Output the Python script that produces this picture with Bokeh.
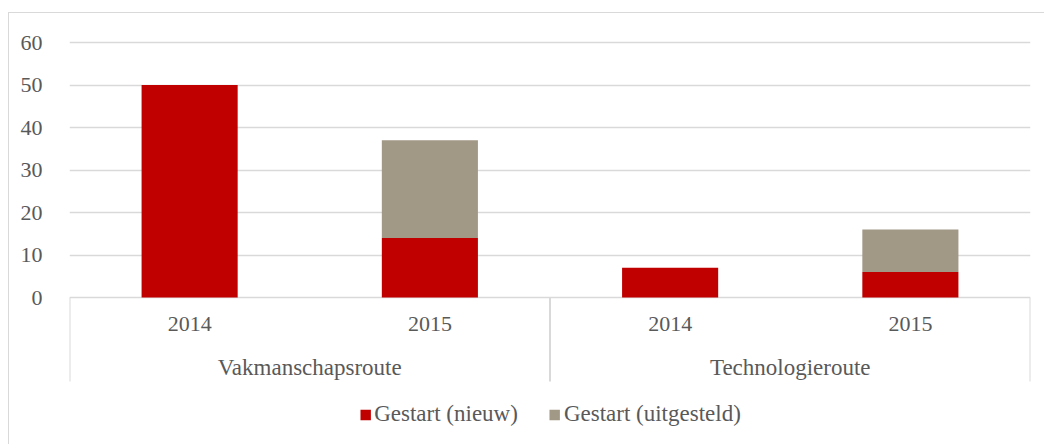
from bokeh.plotting import figure
from bokeh.models import FactorRange, FixedTicker, Range1d, Legend, LegendItem, ColumnDataSource
from bokeh.core.properties import value
from bokeh.embed import file_html
from bokeh.resources import INLINE

# ---- data ----
routes = ["Vakmanschapsroute", "Technologieroute"]
years = ["2014", "2015"]
nieuw = [50, 14, 7, 6]
uitgesteld = [0, 23, 0, 10]
series = ["Gestart (nieuw)", "Gestart (uitgesteld)"]
colors = ["#c00000", "#a29886"]
y_ticks = [0, 10, 20, 30, 40, 50, 60]

FONT = value("Liberation Serif")
TXT = "#595959"
GRID = "#d9d9d9"

factors = [(r, y) for r in routes for y in years]
src = ColumnDataSource(dict(x=factors, nieuw=nieuw, uitgesteld=uitgesteld))

FIG_LEFT, FIG_TOP = 8, 12
FIG_W, FIG_H = 1036, 432
FRAME_TOP = 29
FRAME_BOTTOM = 445
px_per_unit = (297 - 42) / 60.0
y_start = -(FRAME_BOTTOM - 297) / px_per_unit
y_end = 60 + (42 - FRAME_TOP) / px_per_unit
y_sep_end = -(381 - 297) / px_per_unit

p = figure(
    width=FIG_W, height=FIG_H,
    x_range=FactorRange(*factors, factor_padding=0, group_padding=0, range_padding=0),
    y_range=Range1d(y_start, y_end),
    x_axis_location=None,
    output_backend="svg", toolbar_location=None,
    min_border_left=60, min_border_right=15, min_border_top=16, min_border_bottom=0,
)
p.styles = {
    "margin-left": f"{FIG_LEFT}px", "margin-top": f"{FIG_TOP}px",
    "border-left": "1px solid #d9d9d9", "border-top": "1px solid #d9d9d9",
}
p.outline_line_color = None
p.background_fill_color = "white"
p.border_fill_color = "white"

# y axis
p.yaxis.ticker = FixedTicker(ticks=y_ticks)
p.yaxis.axis_line_color = None
p.yaxis.major_tick_line_color = None
p.yaxis.minor_tick_line_color = None
p.yaxis.major_label_standoff = 21
p.yaxis.major_label_text_font = "Liberation Serif"
p.yaxis.major_label_text_font_size = "22px"
p.yaxis.major_label_text_color = TXT
p.ygrid.ticker = FixedTicker(ticks=y_ticks)
p.ygrid.grid_line_color = GRID
p.ygrid.grid_line_width = 1.3
p.xgrid.visible = False

# bars
rs = p.vbar_stack(["nieuw", "uitgesteld"], x="x", width=0.4, source=src,
                  color=colors, line_color=None)

# category axis drawn inside the frame below y=0
p.segment(x0=[0, 2, 4], y0=[0, 0, 0], x1=[0, 2, 4], y1=[y_sep_end] * 3,
          line_color=GRID, line_width=2)
p.text(x=factors, y=[-(323 - 297) / px_per_unit] * len(factors), text=[f[1] for f in factors],
       text_align="center", text_baseline="middle", text_font=FONT,
       text_font_size="22px", text_color=TXT)
p.text(x=routes, y=[-(367 - 297) / px_per_unit] * len(routes), text=routes,
       text_align="center", text_baseline="middle", text_font=FONT,
       text_font_size="23px", text_color=TXT)

legend = Legend(
    items=[LegendItem(label=s, renderers=[r]) for s, r in zip(series, rs)],
    orientation="horizontal", location="bottom_center",
    label_text_font="Liberation Serif", label_text_font_size="23px", label_text_color=TXT,
    glyph_width=13, glyph_height=13, label_standoff=3, spacing=30,
    border_line_color=None, background_fill_alpha=0, padding=0, margin=18,
)
p.add_layout(legend, "center")

open("out.html", "w").write(file_html(p, INLINE))
